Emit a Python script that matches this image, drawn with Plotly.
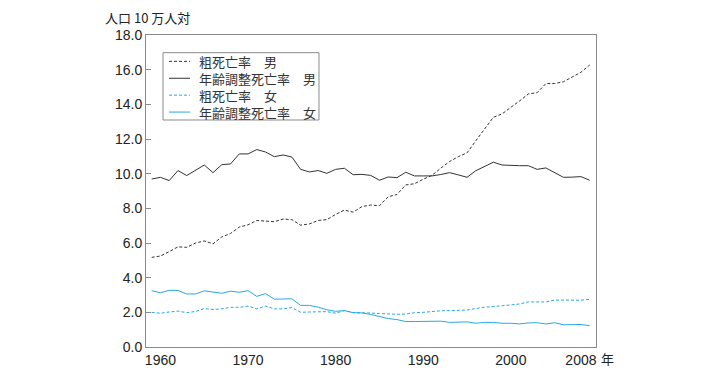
import plotly.graph_objects as go

years = list(range(1959, 2010))

male_crude = [5.17, 5.25, 5.5, 5.78, 5.75, 6.0, 6.12, 5.95, 6.35, 6.55,
              6.92, 7.05, 7.3, 7.27, 7.23, 7.38, 7.35, 7.03, 7.1, 7.3,
              7.35, 7.65, 7.9, 7.78, 8.1, 8.19, 8.15, 8.67, 8.8, 9.35,
              9.42, 9.68, 9.9, 10.32, 10.7, 10.98, 11.2, 11.9, 12.55, 13.25,
              13.45, 13.8, 14.2, 14.6, 14.67, 15.2, 15.2, 15.3, 15.6, 15.85,
              16.27]

male_adj = [9.69, 9.79, 9.60, 10.18, 9.89, 10.18, 10.50, 10.06, 10.52, 10.56,
            11.14, 11.14, 11.39, 11.25, 10.98, 11.08, 10.96, 10.25, 10.10, 10.18,
            10.02, 10.25, 10.31, 9.94, 9.96, 9.90, 9.62, 9.81, 9.77, 10.08,
            9.87, 9.87, 9.87, 9.95, 10.06, 9.93, 9.79, 10.17, 10.4, 10.66,
            10.5, 10.47, 10.46, 10.46, 10.25, 10.33, 10.05, 9.79, 9.8, 9.83,
            9.62]

female_crude = [2.0, 1.95, 2.02, 2.07, 1.98, 2.05, 2.22, 2.16, 2.2, 2.29,
                2.29, 2.36, 2.2, 2.36, 2.2, 2.2, 2.28, 2.0, 2.02, 2.03,
                2.04, 1.95, 2.1, 1.98, 1.98, 1.96, 1.93, 1.89, 1.89, 1.9,
                1.98, 2.0, 2.05, 2.09, 2.1, 2.12, 2.13, 2.22, 2.3, 2.33,
                2.38, 2.46, 2.48, 2.6, 2.58, 2.6, 2.71, 2.71, 2.69, 2.7,
                2.75]

female_adj = [3.25, 3.13, 3.27, 3.26, 3.06, 3.06, 3.24, 3.15, 3.1, 3.22,
              3.16, 3.25, 2.92, 3.08, 2.76, 2.77, 2.78, 2.4, 2.4, 2.3,
              2.15, 2.06, 2.1, 1.98, 1.97, 1.88, 1.75, 1.64, 1.58, 1.47,
              1.47, 1.48, 1.48, 1.49, 1.42, 1.43, 1.45, 1.37, 1.42, 1.42,
              1.37, 1.37, 1.33, 1.39, 1.40, 1.33, 1.40, 1.28, 1.29, 1.30,
              1.23]

series_names = ["粗死亡率　男", "年齢調整死亡率　男", "粗死亡率　女", "年齢調整死亡率　女"]
x_tick_vals = [1960, 1970, 1980, 1990, 2000, 2008]
x_tick_text = ["1960", "1970", "1980", "1990", "2000", "2008"]
y_tick_vals = [0, 2, 4, 6, 8, 10, 12, 14, 16, 18]

BLACK = "#333333"
BLUE = "#27aae1"
GRAY = "#8a8a8a"
FONT = "Arial, 'Liberation Sans', 'Noto Sans CJK JP', sans-serif"
CJK = "'Noto Sans CJK JP', sans-serif"

styles = [
    dict(color=BLACK, width=1, dash="3px,2px"),
    dict(color=BLACK, width=1),
    dict(color=BLUE, width=1, dash="3px,2px"),
    dict(color=BLUE, width=1),
]
values = [male_crude, male_adj, female_crude, female_adj]

fig = go.Figure()
for name, vals, st in zip(series_names, values, styles):
    fig.add_trace(go.Scatter(x=years, y=vals, mode="lines", name=name, line=st))

# manual legend (paper coordinates): frame, line samples, one multi-line text block
shapes = [dict(type="rect", xref="paper", yref="paper", x0=0.0378, x1=0.3844,
               y0=0.7276, y1=0.9433, line=dict(color=GRAY, width=1),
               fillcolor="rgba(0,0,0,0)")]
row_y = [0.9155, 0.8613, 0.8072, 0.7530]
for st, ry in zip(styles, row_y):
    shapes.append(dict(type="line", xref="paper", yref="paper", x0=0.0511, x1=0.0978,
                       y0=ry, y1=ry, line=st))

annotations = [
    dict(text="<br>".join(series_names), xref="paper", yref="paper", x=0.1127, y=0.8340,
         xanchor="left", yanchor="middle", align="left", showarrow=False,
         font=dict(family=CJK, size=13, color="#333333")),
    dict(text="人口 10 万人対", xref="paper", yref="paper", x=-0.095, y=1.0,
         yshift=18, xanchor="left", yanchor="middle", showarrow=False,
         font=dict(family=CJK, size=13, color="#222222")),
    dict(text="年", xref="paper", yref="paper", x=1.0, y=0, xshift=11,
         yshift=-11, xanchor="center", yanchor="middle", showarrow=False,
         font=dict(family=CJK, size=13, color="#222222")),
]

# page body adds an 8px offset; margins compensate so the plot area sits at x 146-596, y 35-347
fig.update_layout(
    width=710, height=368,
    margin=dict(l=138, r=122, t=27, b=29),
    paper_bgcolor="white", plot_bgcolor="white",
    font=dict(family=FONT, size=14, color="#222222"),
    showlegend=False,
    shapes=shapes,
    annotations=annotations,
    xaxis=dict(range=[1958.35, 2009.72], tickmode="array", tickvals=x_tick_vals,
               ticktext=x_tick_text, ticks="", showgrid=False, zeroline=False,
               showline=True, linecolor=GRAY, linewidth=1, mirror=True,
               automargin=False, tickfont=dict(size=14, color="#222222")),
    yaxis=dict(range=[0, 18], tickmode="array", tickvals=y_tick_vals, tickformat=".1f",
               ticks="inside", ticklen=5, tickcolor=GRAY, showgrid=False,
               zeroline=False, showline=True, linecolor=GRAY, linewidth=1,
               mirror=True, automargin=False, tickfont=dict(size=14, color="#222222")),
)

fig.write_html("out.html")
